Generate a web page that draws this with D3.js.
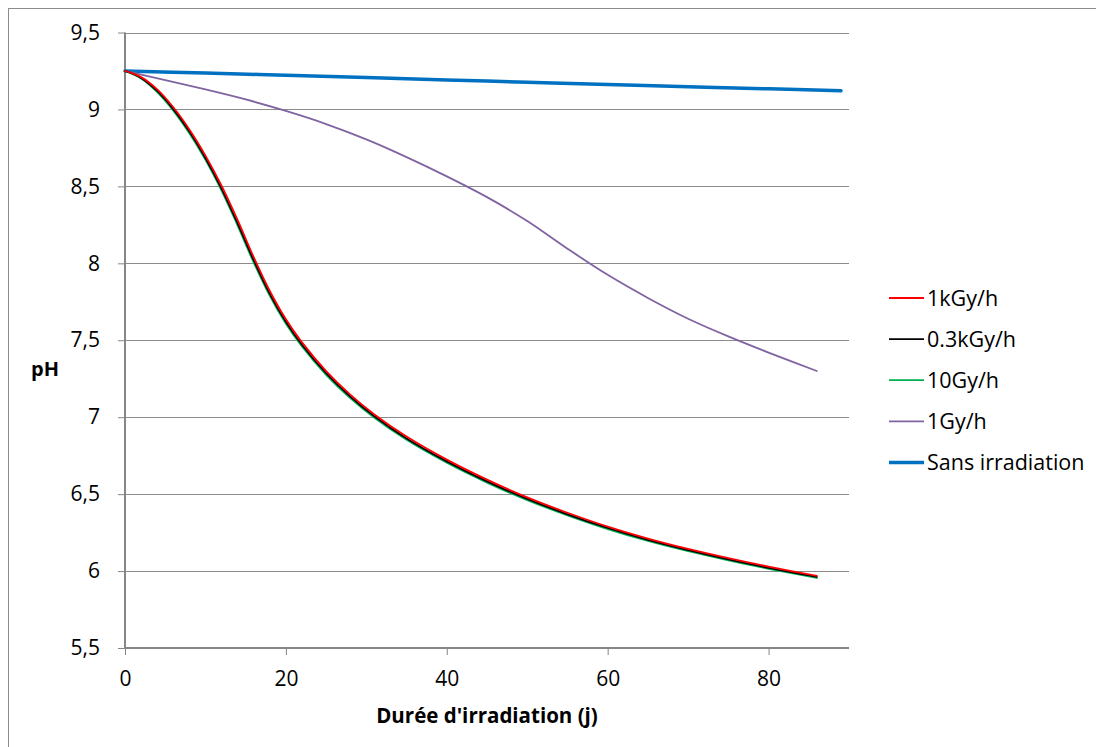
<!DOCTYPE html>
<html>
<head>
<meta charset="utf-8">
<script src="https://cdn.jsdelivr.net/npm/d3@7"></script>
<style>
  html, body { margin: 0; padding: 0; background: #fff; }
  svg { display: block; font-family: "Open Sans", Lato, sans-serif; }
</style>
</head>
<body>
<svg id="chart" width="1096" height="747"></svg>
<script>
// ---- data ----
const seriesNames = ["1kGy/h", "0.3kGy/h", "10Gy/h", "1Gy/h", "Sans irradiation"];
const seriesColors = ["#FF0000", "#000000", "#00B050", "#8064A2", "#0070C0"];

const daysFast = [0, 2, 4, 6, 8, 10, 12, 14, 16, 18, 20, 22, 25, 28, 31, 35, 40, 45, 50, 55, 60, 65, 70, 75, 80, 86];
const ph1kGy   = [9.25, 9.21, 9.13, 9.014, 8.87, 8.70, 8.504, 8.28, 8.04, 7.82, 7.636, 7.486, 7.30, 7.147, 7.018, 6.874, 6.724, 6.594, 6.479, 6.379, 6.289, 6.2115, 6.144, 6.084, 6.029, 5.969];
const ph03kGy  = [9.25, 9.205, 9.12, 9.002, 8.856, 8.684, 8.486, 8.26, 8.02, 7.802, 7.62, 7.471, 7.286, 7.134, 7.006, 6.862, 6.713, 6.583, 6.469, 6.369, 6.28, 6.2025, 6.136, 6.076, 6.021, 5.962];
const ph10Gy   = [9.25, 9.201, 9.112, 8.992, 8.845, 8.672, 8.472, 8.245, 8.005, 7.788, 7.607, 7.459, 7.275, 7.124, 6.996, 6.853, 6.704, 6.575, 6.461, 6.362, 6.273, 6.1955, 6.129, 6.07, 6.015, 5.955];

const daysSlow = [0, 5, 10, 15, 20, 25, 30, 35, 40, 45, 50, 55, 60, 65, 70, 75, 80, 86];
const ph1Gy    = [9.25, 9.19, 9.13, 9.065, 8.99, 8.905, 8.805, 8.69, 8.565, 8.43, 8.275, 8.095, 7.925, 7.775, 7.64, 7.525, 7.42, 7.30];

const daysRef  = [0, 10, 20, 30, 40, 50, 60, 70, 80, 89];
const phRef    = [9.25, 9.237, 9.222, 9.207, 9.192, 9.177, 9.162, 9.148, 9.134, 9.122];

const xTicks = [0, 20, 40, 60, 80];
const yTicks = [5.5, 6, 6.5, 7, 7.5, 8, 8.5, 9, 9.5];
const yTickLabels = ["5,5", "6", "6,5", "7", "7,5", "8", "8,5", "9", "9,5"];
const xTitle = "Durée d'irradiation (j)";
const yTitle = "pH";

// ---- layout ----
const svg = d3.select("#chart");
const plotL = 125, plotR = 849, plotT = 32.5, plotB = 648;
const x = d3.scaleLinear().domain([0, 90]).range([plotL, plotR]);
const y = d3.scaleLinear().domain([5.5, 9.5]).range([plotB, plotT]);

// chart border
svg.append("rect").attr("x", 8.5).attr("y", 8.5).attr("width", 1100).attr("height", 760)
  .attr("fill", "none").attr("stroke", "#8c8c8c").attr("stroke-width", 1);

// gridlines
svg.append("g").selectAll("line").data(yTicks.slice(1)).join("line")
  .attr("x1", plotL).attr("x2", plotR)
  .attr("y1", d => Math.round(y(d)) + 0.5).attr("y2", d => Math.round(y(d)) + 0.5)
  .attr("stroke", "#8c8c8c").attr("stroke-width", 1);

// y axis
const yAxis = d3.axisLeft(y).tickValues(yTicks).tickSize(7).tickPadding(18)
  .tickFormat((d, i) => yTickLabels[i]);
const gy = svg.append("g").attr("transform", `translate(${plotL},0)`).call(yAxis);
gy.select(".domain").attr("stroke", "#868686").attr("stroke-width", 2).attr("d", `M0,${plotB}V${plotT}`);
gy.selectAll(".tick line").attr("stroke", "#868686").attr("stroke-width", 1);
gy.selectAll(".tick text").attr("font-size", 21).attr("fill", "#000").attr("font-family", "Open Sans");

// x axis
const xAxis = d3.axisBottom(x).tickValues(xTicks).tickSize(7).tickPadding(16).tickFormat(d3.format("d"));
const gx = svg.append("g").attr("transform", `translate(0,${plotB})`).call(xAxis);
gx.select(".domain").attr("stroke", "#868686").attr("stroke-width", 2).attr("d", `M${plotL},0H${plotR}`);
gx.selectAll(".tick line").attr("stroke", "#868686").attr("stroke-width", 1);
gx.selectAll(".tick text").attr("font-size", 21).attr("fill", "#000").attr("font-family", "Open Sans");

// axis titles
svg.append("text").attr("x", 487).attr("y", 723)
  .attr("text-anchor", "middle").attr("font-size", 20.5).attr("font-weight", "bold").text(xTitle);
svg.append("text").attr("x", 31).attr("y", 376)
  .attr("font-size", 20).attr("font-weight", "bold").text(yTitle);

// lines
const line = d3.line().x(d => x(d[0])).y(d => y(d[1])).curve(d3.curveCatmullRom.alpha(0.5));
const series = [
  { days: daysRef, vals: phRef, i: 4, w: 3.5 },
  { days: daysSlow, vals: ph1Gy, i: 3, w: 1.8 },
  { days: daysFast, vals: ph10Gy, i: 2, w: 1.8 },
  { days: daysFast, vals: ph03kGy, i: 1, w: 1.8 },
  { days: daysFast, vals: ph1kGy, i: 0, w: 1.8 },
];
svg.append("g").selectAll("path").data(series).join("path")
  .attr("d", s => line(s.days.map((d, k) => [d, s.vals[k]])))
  .attr("fill", "none").attr("stroke", s => seriesColors[s.i]).attr("stroke-width", s => s.w)
  .attr("stroke-linejoin", "round").attr("stroke-linecap", "round");

// legend
const lg = svg.append("g");
const rows = lg.selectAll("g").data(seriesNames).join("g")
  .attr("transform", (d, i) => `translate(889,${298 + i * 41.1})`);
rows.append("line").attr("x1", 0).attr("x2", 35).attr("y1", 0).attr("y2", 0)
  .attr("stroke", (d, i) => seriesColors[i]).attr("stroke-width", (d, i) => i === 4 ? 3.5 : 1.8);
rows.append("text").attr("x", 38).attr("y", 0).attr("dy", "0.36em")
  .attr("font-size", 21.5).attr("fill", "#000").text(d => d);
</script>
</body>
</html>
